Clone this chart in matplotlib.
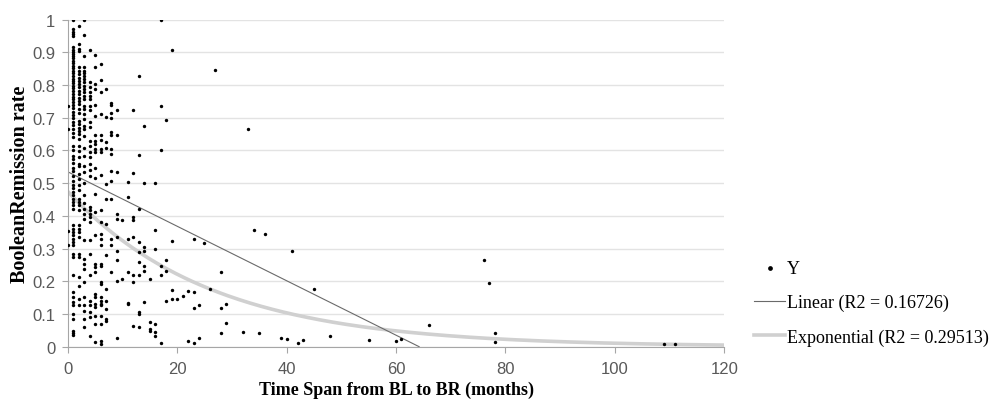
import numpy as np
import matplotlib
matplotlib.use('Agg')
import matplotlib.pyplot as plt

# remission rate per time span (months)
cols = {
    0: [0.737, 0.665, 0.354, 0.311],
    1: [1.0, 0.971, 0.961, 0.955, 0.949, 0.915, 0.908, 0.902, 0.895, 0.888, 0.882, 0.874,
        0.867, 0.859, 0.851, 0.844, 0.837, 0.829, 0.820, 0.813, 0.806, 0.798, 0.790, 0.782,
        0.772, 0.765, 0.757, 0.747, 0.739, 0.729, 0.718, 0.708, 0.698, 0.688, 0.678, 0.665,
        0.655, 0.640, 0.614, 0.602, 0.584, 0.573, 0.561, 0.548, 0.538, 0.522, 0.507,
        0.494, 0.484, 0.473, 0.463, 0.453, 0.443, 0.433, 0.422, 0.371, 0.361, 0.351, 0.341,
        0.330, 0.320, 0.310, 0.284, 0.274, 0.218, 0.167, 0.151, 0.136, 0.126, 0.100, 0.085,
        0.049, 0.042, 0.036],
    2: [0.980, 0.926, 0.910, 0.905, 0.854, 0.844, 0.834, 0.823, 0.813, 0.803, 0.793, 0.783,
        0.772, 0.762, 0.752, 0.742, 0.727, 0.716, 0.691, 0.681, 0.670, 0.660, 0.650, 0.635,
        0.614, 0.599, 0.579, 0.558, 0.553, 0.528, 0.512,
        0.494, 0.479, 0.453, 0.443, 0.433, 0.417, 0.371, 0.361, 0.351, 0.335, 0.284, 0.274,
        0.213, 0.187, 0.146, 0.126],
    3: [1.0, 0.953, 0.888, 0.854, 0.844, 0.837, 0.829, 0.818, 0.808, 0.798, 0.788, 0.778,
        0.767, 0.757, 0.737, 0.727, 0.711, 0.696, 0.676, 0.665, 0.645, 0.609, 0.584, 0.553,
        0.533, 0.502,
        0.463, 0.438, 0.422, 0.407, 0.392, 0.325, 0.269, 0.254, 0.238, 0.197, 0.151, 0.126,
        0.110, 0.085, 0.059],
    4: [0.908, 0.810, 0.793, 0.780, 0.767, 0.757, 0.737, 0.724, 0.688, 0.673, 0.630, 0.614,
        0.594, 0.579, 0.558, 0.541, 0.522,
        0.427, 0.417, 0.407, 0.397, 0.381, 0.325, 0.284, 0.218, 0.141, 0.126, 0.105, 0.090,
        0.034],
    5: [0.892, 0.856, 0.803, 0.788, 0.739, 0.706, 0.647, 0.630, 0.619, 0.604, 0.594, 0.548,
        0.517,
        0.468, 0.412, 0.341, 0.254, 0.243, 0.228, 0.162, 0.151, 0.131, 0.121, 0.095, 0.070,
        0.013],
    6: [0.866, 0.816, 0.778, 0.713, 0.647, 0.632, 0.604, 0.594, 0.525,
        0.417, 0.381, 0.346, 0.330, 0.310, 0.254, 0.248, 0.197, 0.192, 0.151, 0.141, 0.131,
        0.126, 0.095, 0.070, 0.018, 0.008],
    7: [0.788, 0.703, 0.627, 0.609, 0.497, 0.453, 0.376, 0.279, 0.177, 0.141, 0.116,
        0.085, 0.080],
    8: [0.745, 0.739, 0.714, 0.698, 0.657, 0.647, 0.604, 0.589, 0.538, 0.507, 0.453,
        0.330, 0.310, 0.228],
    9: [0.723, 0.647, 0.533, 0.407, 0.392, 0.335, 0.294, 0.264, 0.202, 0.026],
    10: [0.386, 0.208],
    11: [0.504, 0.458, 0.330, 0.228, 0.134, 0.131],
    12: [0.723, 0.530, 0.397, 0.386, 0.335, 0.218, 0.197, 0.064],
    13: [0.827, 0.587, 0.422, 0.320, 0.289, 0.259, 0.218, 0.107, 0.100, 0.059],
    14: [0.676, 0.500, 0.305, 0.294, 0.246, 0.232, 0.138],
    15: [0.208, 0.075, 0.054, 0.049],
    16: [0.500, 0.358, 0.300, 0.070, 0.044, 0.034],
    17: [1.0, 0.737, 0.600, 0.248, 0.220, 0.011],
    18: [0.693, 0.266, 0.230, 0.141],
    19: [0.908, 0.323, 0.174, 0.146],
    20: [0.146],
    21: [0.154],
    22: [0.171, 0.018],
    23: [0.330, 0.167, 0.118, 0.011],
    24: [0.126, 0.027],
    25: [0.317],
    26: [0.175],
    27: [0.847],
    28: [0.228, 0.118, 0.043],
    29: [0.131, 0.072],
    32: [0.046],
    33: [0.666],
    34: [0.357],
    35: [0.042],
    36: [0.344],
    39: [0.026],
    40: [0.024],
    41: [0.292],
    42: [0.011],
    43: [0.021],
    45: [0.176],
    48: [0.034],
    55: [0.019],
    60: [0.017],
    61: [0.022],
    66: [0.067],
    76: [0.266],
    77: [0.195],
    78: [0.042, 0.013],
    109: [0.009],
    111: [0.009],
}

months = []
rates = []
for m, vals in cols.items():
    months += [m] * len(vals)
    rates += vals

# trendline coefficients as shown in the chart
lin_icpt, lin_slope = 0.535, -0.00833
exp_a, exp_k = 0.475, 0.0381

fig = plt.figure(figsize=(9.94, 4.02), dpi=100)
ax = fig.add_axes([0.0681, 0.1351, 0.6606, 0.8134])

ax.scatter(months, rates, s=6, color='black', linewidths=0, label='Y', zorder=3)

x_lin = np.linspace(0, -lin_icpt / lin_slope, 50)
ax.plot(x_lin, lin_icpt + lin_slope * x_lin, color='#6a6a6a', lw=0.8,
        label='Linear (R2 = 0.16726)', zorder=2)
x_exp = np.linspace(0, 120, 300)
ax.plot(x_exp, exp_a * np.exp(-exp_k * x_exp), color='#d0d0d0', lw=2.6,
        label='Exponential (R2 = 0.29513)', zorder=1)

ax.set_xlim(0, 120)
ax.set_ylim(0, 1)
ax.set_xticks(np.arange(0, 121, 20))
ax.set_yticks(np.arange(0, 1.01, 0.1))
ax.set_yticklabels(['0'] + [f'{v:.1f}' for v in np.arange(0.1, 0.95, 0.1)] + ['1'])
ax.grid(axis='y', color='#e3e3e3', lw=1)
ax.set_axisbelow(True)
for s in ['top', 'right']:
    ax.spines[s].set_visible(False)
for s in ['left', 'bottom']:
    ax.spines[s].set_color('#a6a6a6')
ax.tick_params(colors='#a6a6a6', length=4, labelcolor='#595959', labelsize=12)
ax.tick_params(axis='y', pad=5)
ax.tick_params(axis='x', pad=6)
for lab in ax.get_xticklabels() + ax.get_yticklabels():
    lab.set_family('Liberation Sans')

ax.set_xlabel('Time Span from BL to BR (months)', family='Liberation Serif',
              fontweight='bold', fontsize=13, labelpad=4)
ax.set_ylabel('BooleanRemission rate', family='Liberation Serif',
              fontweight='bold', fontsize=14.5, labelpad=1.5)

leg = ax.legend(loc='center left', bbox_to_anchor=(1.02, 0.135), frameon=False,
                prop={'family': 'Liberation Serif', 'size': 13},
                handlelength=1.75, handletextpad=0.1, labelspacing=0.95,
                markerscale=1.4)

fig.savefig('out.png', dpi=100)
